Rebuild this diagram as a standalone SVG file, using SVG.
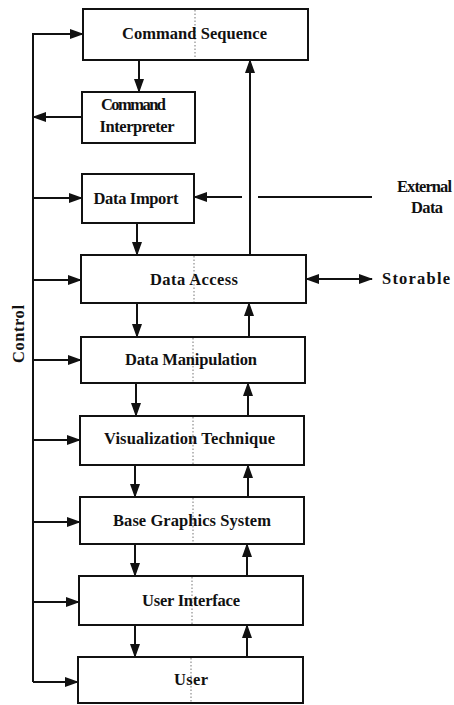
<svg xmlns="http://www.w3.org/2000/svg" width="454" height="705" viewBox="0 0 454 705">
<style>
.box{fill:#fff;stroke:#111;stroke-width:2}
.div{stroke:#777;stroke-width:1;stroke-dasharray:1.5 2}
.lbl{font-family:"Liberation Serif","Times New Roman",serif;font-weight:bold;font-size:16.5px;fill:#111;text-anchor:middle}
.c{fill:none;stroke:#111;stroke-width:2}
.a{marker-end:url(#ah)}
.b{marker-start:url(#ah);marker-end:url(#ah)}
</style>
<defs>
<marker id="ah" viewBox="0 0 14 10" refX="13" refY="5" markerWidth="14" markerHeight="10" markerUnits="userSpaceOnUse" orient="auto-start-reverse">
<path d="M0,0 L14,5 L0,10 z" fill="#111"/>
</marker>
</defs>
<rect width="454" height="705" fill="#fff"/>

<g id="connectors">
<path class="c" d="M83,34 H33 V682"/>
<line class="c a" x1="33" y1="34" x2="83" y2="34"/>
<line class="c a" x1="82" y1="117" x2="33" y2="117"/>
<line class="c a" x1="33" y1="198" x2="82" y2="198"/>
<line class="c a" x1="33" y1="280" x2="81" y2="280"/>
<line class="c a" x1="33" y1="360" x2="81" y2="360"/>
<line class="c a" x1="33" y1="440" x2="80" y2="440"/>
<line class="c a" x1="33" y1="522" x2="80" y2="522"/>
<line class="c a" x1="33" y1="602" x2="79" y2="602"/>
<line class="c a" x1="33" y1="682" x2="78" y2="682"/>

<line class="c a" x1="139" y1="60" x2="139" y2="92"/>
<line class="c a" x1="137" y1="223" x2="137" y2="255"/>
<line class="c a" x1="137" y1="303" x2="137" y2="337"/>
<line class="c a" x1="136" y1="383" x2="136" y2="416"/>
<line class="c a" x1="135" y1="465" x2="135" y2="497"/>
<line class="c a" x1="135" y1="544" x2="135" y2="576"/>
<line class="c a" x1="135" y1="625" x2="135" y2="657"/>

<line class="c a" x1="250" y1="255" x2="250" y2="60"/>
<line class="c a" x1="249" y1="337" x2="249" y2="303"/>
<line class="c a" x1="248" y1="416" x2="248" y2="383"/>
<line class="c a" x1="248" y1="497" x2="248" y2="465"/>
<line class="c a" x1="247" y1="576" x2="247" y2="544"/>
<line class="c a" x1="247" y1="657" x2="247" y2="625"/>

<line class="c" x1="372" y1="197" x2="258" y2="197"/>
<line class="c a" x1="242" y1="197" x2="194" y2="197"/>
<line class="c b" x1="306" y1="279" x2="372" y2="279"/>
</g>

<g id="command-sequence">
<rect class="box" x="83" y="9" width="225" height="51"/>
<line class="div" x1="195" y1="10" x2="195" y2="59"/>
<text class="lbl" x="194.5" y="39" textLength="145" lengthAdjust="spacing">Command Sequence</text>
</g>
<g id="command-interpreter">
<rect class="box" x="82" y="92" width="113" height="51"/>
<text class="lbl" x="133.5" y="110" textLength="65" lengthAdjust="spacing">Command</text>
<text class="lbl" x="137" y="132" textLength="75" lengthAdjust="spacing">Interpreter</text>
</g>
<g id="data-import">
<rect class="box" x="82" y="174" width="112" height="49"/>
<text class="lbl" x="136" y="204" textLength="85" lengthAdjust="spacing">Data Import</text>
</g>
<g id="data-access">
<rect class="box" x="81" y="255" width="225" height="48"/>
<line class="div" x1="194" y1="256" x2="194" y2="302"/>
<text class="lbl" x="194" y="285" textLength="88" lengthAdjust="spacing">Data Access</text>
</g>
<g id="data-manipulation">
<rect class="box" x="81" y="337" width="224" height="46"/>
<line class="div" x1="193" y1="338" x2="193" y2="382"/>
<text class="lbl" x="191" y="365" textLength="132" lengthAdjust="spacing">Data Manipulation</text>
</g>
<g id="visualization-technique">
<rect class="box" x="80" y="416" width="224" height="49"/>
<line class="div" x1="193" y1="417" x2="193" y2="464"/>
<text class="lbl" x="189.5" y="444" textLength="171" lengthAdjust="spacing">Visualization Technique</text>
</g>
<g id="base-graphics-system">
<rect class="box" x="80" y="497" width="224" height="47"/>
<line class="div" x1="193" y1="498" x2="193" y2="543"/>
<text class="lbl" x="192" y="526" textLength="158" lengthAdjust="spacing">Base Graphics System</text>
</g>
<g id="user-interface">
<rect class="box" x="79" y="576" width="224" height="49"/>
<line class="div" x1="192" y1="577" x2="192" y2="624"/>
<text class="lbl" x="191" y="606" textLength="98" lengthAdjust="spacing">User Interface</text>
</g>
<g id="user">
<rect class="box" x="78" y="657" width="225" height="46"/>
<line class="div" x1="191" y1="658" x2="191" y2="702"/>
<text class="lbl" x="191" y="685" textLength="34" lengthAdjust="spacing">User</text>
</g>
<g id="external-data">
<text class="lbl" x="424.5" y="192" textLength="55" lengthAdjust="spacing">External</text>
<text class="lbl" x="427" y="213" textLength="32" lengthAdjust="spacing">Data</text>
</g>
<g id="storable">
<text class="lbl" x="416" y="284" textLength="68" lengthAdjust="spacing">Storable</text>
</g>
<g id="control">
<text class="lbl" transform="translate(24,334) rotate(-90)" x="0" y="0" textLength="58" lengthAdjust="spacing">Control</text>
</g>
</svg>
